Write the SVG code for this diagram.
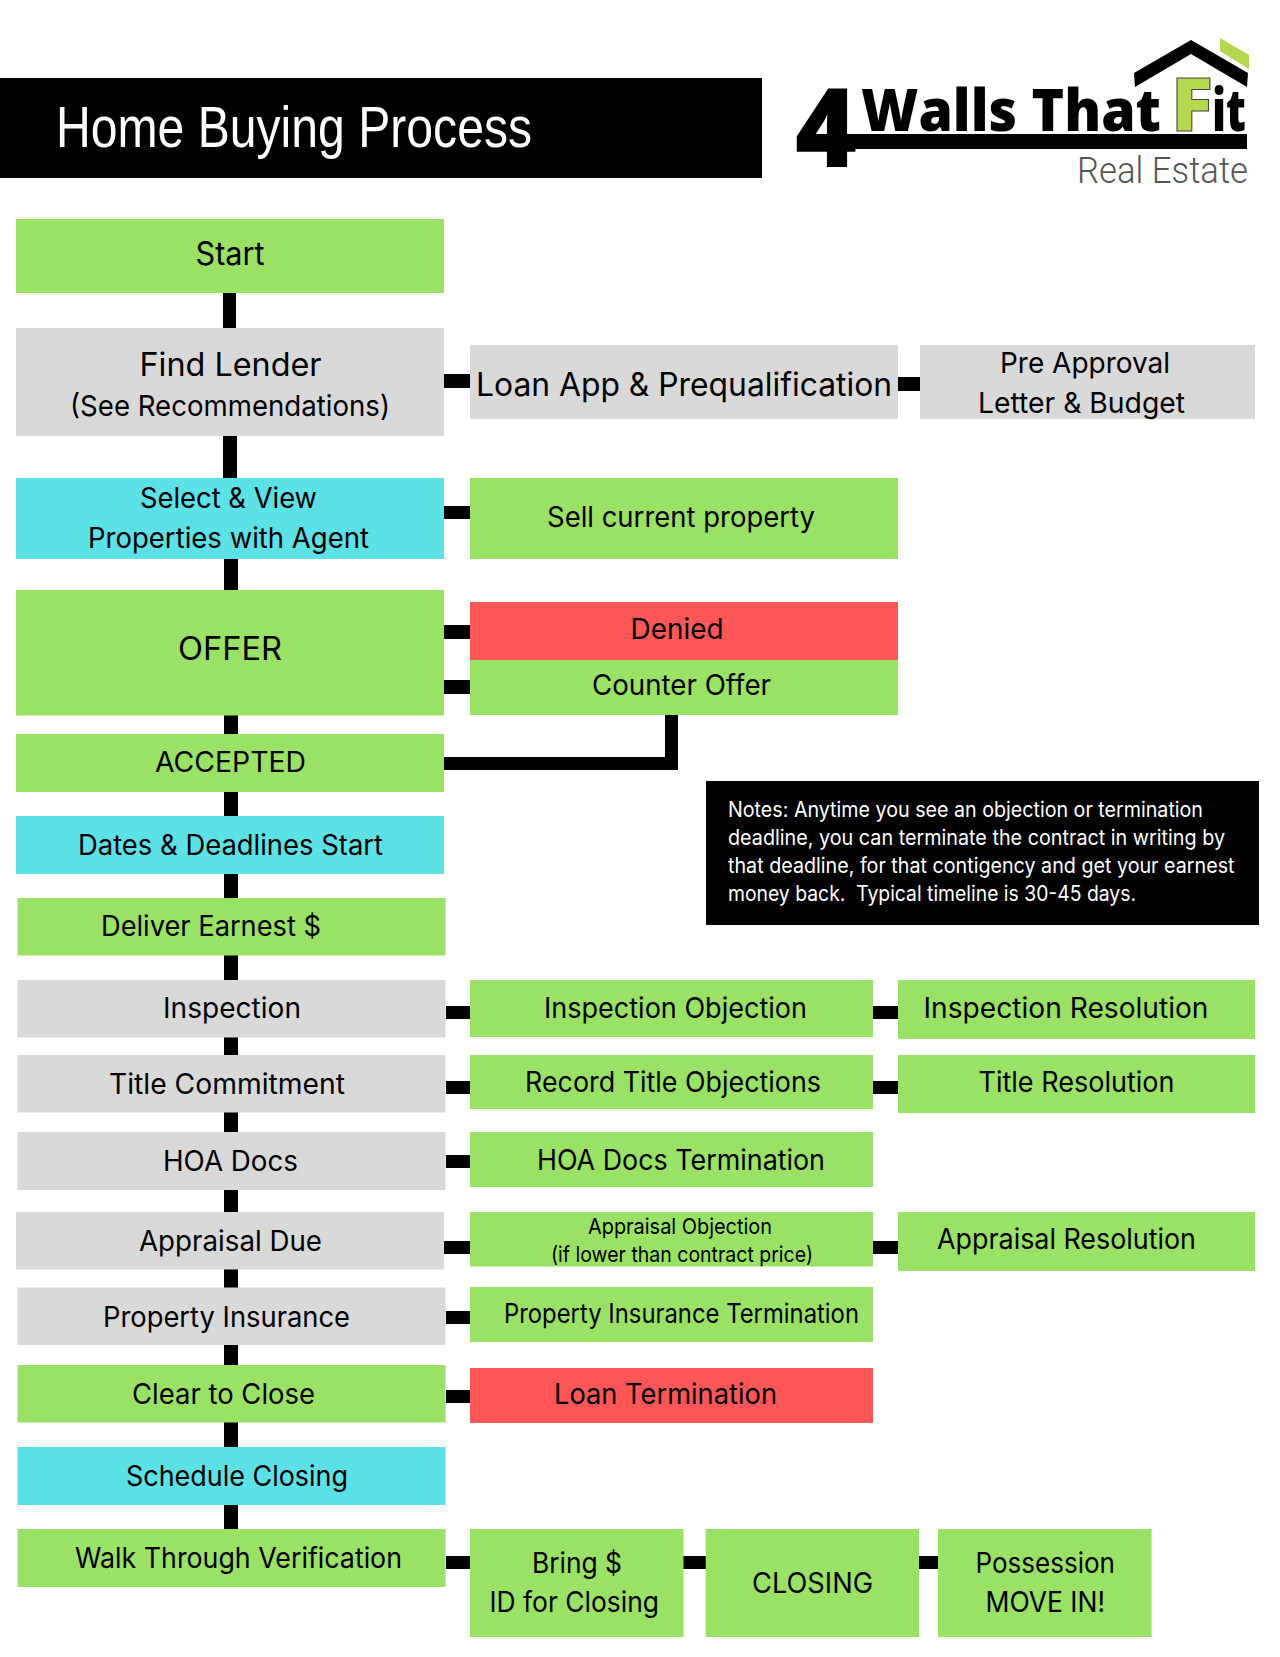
<svg xmlns="http://www.w3.org/2000/svg" width="1280" height="1657" viewBox="0 0 1280 1657">
<style>
.g{fill:#9ae266}.y{fill:#d9d9d9}.c{fill:#5ce1e6}.r{fill:#ff5757}.k{fill:#000}
text{font-family:"Inter","Noto Sans","Liberation Sans",sans-serif;fill:#000;font-weight:400}
.s32{font-size:32px}.s29{font-size:29px}.s28{font-size:28px}.s27{font-size:27px}.s22{font-size:22px}
.n{font-size:21px;fill:#fff}
.lg{font-family:"Open Sans","Liberation Sans",sans-serif;font-weight:800}
</style>
<rect width="1280" height="1657" fill="#fff"/>
<g id="connectors" class="k">
<rect x="223" y="293" width="13" height="35"/>
<rect x="223" y="436" width="14" height="42"/>
<rect x="224" y="559" width="14" height="31"/>
<rect x="224" y="715" width="14" height="19"/>
<rect x="224" y="792" width="14" height="24"/>
<rect x="224" y="874" width="14" height="24"/>
<rect x="224" y="955" width="14" height="25"/>
<rect x="224" y="1037" width="14" height="18"/>
<rect x="224" y="1112" width="14" height="20"/>
<rect x="224" y="1190" width="14" height="22"/>
<rect x="224" y="1269" width="14" height="19"/>
<rect x="224" y="1345" width="14" height="20"/>
<rect x="224" y="1422" width="14" height="25"/>
<rect x="224" y="1505" width="14" height="24"/>
<rect x="444" y="374" width="26" height="14"/>
<rect x="898" y="377" width="22" height="14"/>
<rect x="444" y="506" width="26" height="13"/>
<rect x="444" y="625" width="26" height="14"/>
<rect x="444" y="680" width="26" height="14"/>
<path d="M444 757H665V715H678V770H444Z"/>
<rect x="446" y="1006" width="24" height="13"/>
<rect x="873" y="1006" width="25" height="13"/>
<rect x="446" y="1081" width="24" height="13"/>
<rect x="873" y="1081" width="25" height="13"/>
<rect x="446" y="1155" width="24" height="13"/>
<rect x="444" y="1241" width="26" height="13"/>
<rect x="873" y="1241" width="25" height="13"/>
<rect x="446" y="1311" width="24" height="13"/>
<rect x="446" y="1390" width="24" height="13"/>
<rect x="446" y="1556" width="24" height="13"/>
<rect x="683" y="1556" width="23" height="13"/>
<rect x="919" y="1556" width="19" height="13"/>
</g>
<g id="header">
<rect class="k" y="78" width="762" height="100"/>
<text x="56" y="147" textLength="476" lengthAdjust="spacingAndGlyphs" style="font-family:'Liberation Sans',sans-serif;font-size:57px;fill:#fff">Home Buying Process</text>
</g>
<g id="logo">
<polygon class="k" points="1134,73 1191,40 1248,73 1247,87 1191,54 1135,87"/>
<polygon points="1220,38 1249,55 1249,69 1220,51" fill="#b5d84f"/>
<rect class="k" x="798" y="134" width="449" height="15"/>
<text class="lg" x="795" y="167" textLength="62" lengthAdjust="spacingAndGlyphs" style="font-size:110px">4</text>
<text class="lg" y="131" style="font-size:59px"><tspan x="861" textLength="300" lengthAdjust="spacingAndGlyphs">Walls That</tspan> <tspan x="1171" textLength="42" lengthAdjust="spacingAndGlyphs" style="font-size:74px;fill:#b5d84f;stroke:#444;stroke-width:1">F</tspan><tspan x="1212" textLength="34" lengthAdjust="spacingAndGlyphs">it</tspan></text>
<text x="1077" y="183" textLength="171" lengthAdjust="spacingAndGlyphs" style="font-family:Roboto,sans-serif;font-weight:300;font-size:36px;fill:#555">Real Estate</text>
</g>
<g id="start"><rect class="g" x="16" y="219" width="428" height="74"/><text class="s32" x="195.500" y="265" textLength="69" lengthAdjust="spacingAndGlyphs">Start</text></g>
<g id="find-lender"><rect class="y" x="16" y="328" width="428" height="108"/><text class="s32" x="139.500" y="376" textLength="182" lengthAdjust="spacingAndGlyphs">Find Lender</text><text class="s29" x="70" y="416" textLength="320" lengthAdjust="spacingAndGlyphs">(See Recommendations)</text></g>
<g id="loan-app"><rect class="y" x="470" y="345" width="428" height="74"/><text class="s32" x="476" y="395.500" textLength="416" lengthAdjust="spacingAndGlyphs">Loan App &amp; Prequalification</text></g>
<g id="pre-approval"><rect class="y" x="920" y="345" width="335" height="74"/><text class="s29" x="1000" y="373" textLength="170" lengthAdjust="spacingAndGlyphs">Pre Approval</text><text class="s29" x="978" y="413" textLength="207" lengthAdjust="spacingAndGlyphs">Letter &amp; Budget</text></g>
<g id="select-view"><rect class="c" x="16" y="478" width="428" height="81"/><text class="s28" x="140" y="508" textLength="177" lengthAdjust="spacingAndGlyphs">Select &amp; View</text><text class="s28" x="88" y="548" textLength="281" lengthAdjust="spacingAndGlyphs">Properties with Agent</text></g>
<g id="sell-current"><rect class="g" x="470" y="478" width="428" height="81"/><text class="s28" x="547" y="527" textLength="268" lengthAdjust="spacingAndGlyphs">Sell current property</text></g>
<g id="offer"><rect class="g" x="16" y="590" width="428" height="125.500"/><text class="s32" x="178" y="660" textLength="104" lengthAdjust="spacingAndGlyphs">OFFER</text></g>
<g id="denied"><rect class="r" x="470" y="602" width="428" height="58"/><text class="s28" x="630.500" y="639" textLength="93" lengthAdjust="spacingAndGlyphs">Denied</text></g>
<g id="counter-offer"><rect class="g" x="470" y="660" width="428" height="55"/><text class="s28" x="592" y="695" textLength="179" lengthAdjust="spacingAndGlyphs">Counter Offer</text></g>
<g id="accepted"><rect class="g" x="16" y="734" width="428" height="58"/><text class="s28" x="155" y="772" textLength="151" lengthAdjust="spacingAndGlyphs">ACCEPTED</text></g>
<g id="notes"><rect class="k" x="706" y="781" width="553" height="144"/>
<text class="n" x="728" y="817" textLength="475" lengthAdjust="spacingAndGlyphs">Notes: Anytime you see an objection or termination</text>
<text class="n" x="728" y="845" textLength="497" lengthAdjust="spacingAndGlyphs">deadline, you can terminate the contract in writing by</text>
<text class="n" x="728" y="873" textLength="506.500" lengthAdjust="spacingAndGlyphs">that deadline, for that contigency and get your earnest</text>
<text class="n" x="728" y="901" textLength="408" lengthAdjust="spacingAndGlyphs" xml:space="preserve">money back.  Typical timeline is 30-45 days.</text></g>
<g id="dates"><rect class="c" x="16" y="816" width="428" height="58"/><text class="s28" x="78" y="855" textLength="305" lengthAdjust="spacingAndGlyphs">Dates &amp; Deadlines Start</text></g>
<g id="deliver-earnest"><rect class="g" x="17.500" y="898" width="428" height="57.500"/><text class="s28" x="101" y="936" textLength="220" lengthAdjust="spacingAndGlyphs">Deliver Earnest $</text></g>
<g id="inspection"><rect class="y" x="17.500" y="980" width="428" height="57.500"/><text class="s28" x="163" y="1018" textLength="138" lengthAdjust="spacingAndGlyphs">Inspection</text></g>
<g id="inspection-objection"><rect class="g" x="470" y="980" width="403" height="57"/><text class="s28" x="544" y="1018" textLength="263" lengthAdjust="spacingAndGlyphs">Inspection Objection</text></g>
<g id="inspection-resolution"><rect class="g" x="898" y="980" width="357" height="59"/><text class="s28" x="923.500" y="1018" textLength="285" lengthAdjust="spacingAndGlyphs">Inspection Resolution</text></g>
<g id="title-commitment"><rect class="y" x="17.500" y="1055" width="428" height="57.500"/><text class="s28" x="109" y="1094" textLength="236" lengthAdjust="spacingAndGlyphs">Title Commitment</text></g>
<g id="record-title"><rect class="g" x="470" y="1055" width="403" height="54"/><text class="s28" x="525" y="1092" textLength="296" lengthAdjust="spacingAndGlyphs">Record Title Objections</text></g>
<g id="title-resolution"><rect class="g" x="898" y="1055" width="357" height="58"/><text class="s28" x="978.500" y="1092" textLength="196" lengthAdjust="spacingAndGlyphs">Title Resolution</text></g>
<g id="hoa-docs"><rect class="y" x="17.500" y="1132" width="428" height="58"/><text class="s28" x="163" y="1171" textLength="135" lengthAdjust="spacingAndGlyphs">HOA Docs</text></g>
<g id="hoa-termination"><rect class="g" x="470" y="1132" width="403" height="55"/><text class="s28" x="537" y="1170" textLength="288" lengthAdjust="spacingAndGlyphs">HOA Docs Termination</text></g>
<g id="appraisal-due"><rect class="y" x="16" y="1212" width="428" height="57.500"/><text class="s28" x="139" y="1251" textLength="183" lengthAdjust="spacingAndGlyphs">Appraisal Due</text></g>
<g id="appraisal-objection"><rect class="g" x="470" y="1212" width="403" height="54.500"/><text class="s22" x="588" y="1234" textLength="184" lengthAdjust="spacingAndGlyphs">Appraisal Objection</text><text class="s22" x="551" y="1262" textLength="262" lengthAdjust="spacingAndGlyphs">(if lower than contract price)</text></g>
<g id="appraisal-resolution"><rect class="g" x="898" y="1212" width="357" height="59"/><text class="s28" x="937" y="1249" textLength="259" lengthAdjust="spacingAndGlyphs">Appraisal Resolution</text></g>
<g id="property-insurance"><rect class="y" x="17.500" y="1287.500" width="428" height="57.500"/><text class="s28" x="103" y="1327" textLength="247" lengthAdjust="spacingAndGlyphs">Property Insurance</text></g>
<g id="insurance-termination"><rect class="g" x="470" y="1287" width="403" height="55"/><text class="s27" x="504" y="1323" textLength="355" lengthAdjust="spacingAndGlyphs">Property Insurance Termination</text></g>
<g id="clear-to-close"><rect class="g" x="17.500" y="1365" width="428" height="57.500"/><text class="s28" x="132" y="1403.500" textLength="183" lengthAdjust="spacingAndGlyphs">Clear to Close</text></g>
<g id="loan-termination"><rect class="r" x="470" y="1368" width="403" height="55"/><text class="s28" x="554" y="1403.500" textLength="223" lengthAdjust="spacingAndGlyphs">Loan Termination</text></g>
<g id="schedule-closing"><rect class="c" x="17.500" y="1447" width="428" height="58"/><text class="s28" x="126" y="1486" textLength="222" lengthAdjust="spacingAndGlyphs">Schedule Closing</text></g>
<g id="walk-through"><rect class="g" x="17.500" y="1529" width="428" height="58"/><text class="s28" x="75" y="1568" textLength="327" lengthAdjust="spacingAndGlyphs">Walk Through Verification</text></g>
<g id="bring"><rect class="g" x="470" y="1529" width="213.500" height="108"/><text class="s28" x="532" y="1573" textLength="90" lengthAdjust="spacingAndGlyphs">Bring $</text><text class="s28" x="489.500" y="1612" textLength="169.500" lengthAdjust="spacingAndGlyphs">ID for Closing</text></g>
<g id="closing"><rect class="g" x="705.700" y="1529" width="213.300" height="108"/><text class="s28" x="752" y="1593" textLength="121" lengthAdjust="spacingAndGlyphs">CLOSING</text></g>
<g id="possession"><rect class="g" x="938" y="1529" width="213.600" height="108"/><text class="s28" x="975.500" y="1573" textLength="139.500" lengthAdjust="spacingAndGlyphs">Possession</text><text class="s28" x="985.500" y="1612" textLength="119.500" lengthAdjust="spacingAndGlyphs">MOVE IN!</text></g>
</svg>
